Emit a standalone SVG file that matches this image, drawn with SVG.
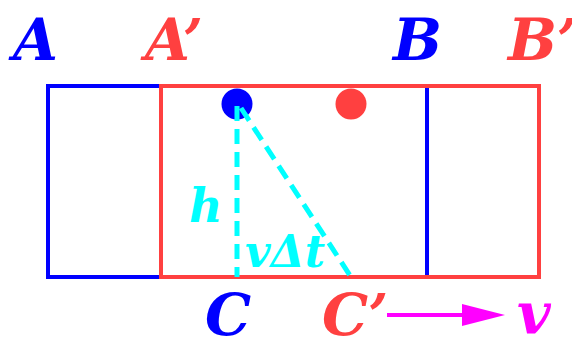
<svg xmlns="http://www.w3.org/2000/svg" width="572" height="341" viewBox="0 0 572 341">
<defs>
<style>
.t{font-family:"DejaVu Serif","Liberation Serif",serif;font-weight:bold;font-style:italic;}
.big{font-size:58px;}
.blue{fill:#0000ff;}
.red{fill:#ff4040;}
.cy{fill:#00ffff;font-size:44px;}
.dash{stroke:#00ffff;stroke-width:5;stroke-dasharray:15 8;fill:none;}
</style>
</defs>
<rect width="572" height="341" fill="#ffffff"/>
<g id="frameAB">
<rect x="48" y="86" width="379" height="191" fill="none" stroke="#0000ff" stroke-width="4"/>
</g>
<g id="frameAB2">
<rect x="161" y="86" width="378" height="191" fill="none" stroke="#ff4040" stroke-width="4"/>
</g>
<g id="dotBlue"><circle cx="237" cy="104" r="15.5" fill="#0000ff"/></g>
<g id="dotRed"><circle cx="351" cy="104" r="15.5" fill="#ff4040"/></g>
<g id="connectors">
<line class="dash" x1="237" y1="106" x2="237" y2="277"/>
<line class="dash" x1="241" y1="108" x2="351" y2="277"/>
<line x1="387" y1="315" x2="468" y2="315" stroke="#ff00ff" stroke-width="4"/>
<polygon points="462,304 505,315 462,326" fill="#ff00ff"/>
</g>
<g id="labels">
<text class="t big blue" x="13" y="60">A</text>
<text class="t big red" x="145" y="60">A’</text>
<text class="t big blue" x="393" y="60">B</text>
<text class="t big red" x="508" y="60">B’</text>
<text class="t big blue" x="205" y="335">C</text>
<text class="t big red" x="322" y="335">C’</text>
<text class="t" x="517" y="334" style="font-size:58px;fill:#ff00ff">v</text>
<text class="t cy" x="189" y="222" style="font-size:46px">h</text>
<text class="t cy" x="245" y="267">vΔt</text>
</g>
</svg>
